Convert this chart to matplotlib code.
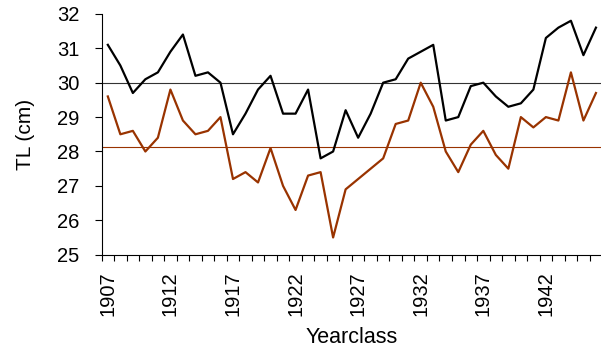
import numpy as np
import matplotlib
matplotlib.use("Agg")
import matplotlib.pyplot as plt
from matplotlib.ticker import MultipleLocator

plt.rcParams['font.family'] = ['Liberation Sans', 'DejaVu Sans']

# yearclasses 1907-1946
years = list(range(1907, 1947))
# black series
tl_black = [31.1, 30.5, 29.7, 30.1, 30.3, 30.9, 31.4, 30.2, 30.3, 30.0,
            28.5, 29.1, 29.8, 30.2, 29.1, 29.1, 29.8, 27.8, 28.0, 29.2,
            28.4, 29.1, 30.0, 30.1, 30.7, 30.9, 31.1, 28.9, 29.0, 29.9,
            30.0, 29.6, 29.3, 29.4, 29.8, 31.3, 31.6, 31.8, 30.8, 31.6]
# brown series
tl_brown = [29.6, 28.5, 28.6, 28.0, 28.4, 29.8, 28.9, 28.5, 28.6, 29.0,
            27.2, 27.4, 27.1, 28.1, 27.0, 26.3, 27.3, 27.4, 25.5, 26.9,
            27.2, 27.5, 27.8, 28.8, 28.9, 30.0, 29.3, 28.0, 27.4, 28.2,
            28.6, 27.9, 27.5, 29.0, 28.7, 29.0, 28.9, 30.3, 28.9, 29.7]
# reference levels
ref_black = 30.0
ref_brown = 28.12
label_years = [1907, 1912, 1917, 1922, 1927, 1932, 1937, 1942]

brown = '#993300'

fig = plt.figure(figsize=(6.01, 3.47), dpi=100)
ax = fig.add_axes([0.169, 0.266, 0.833, 0.694])

ax.axhline(ref_black, color='#333333', lw=0.8, zorder=1)
ax.axhline(ref_brown, color=brown, lw=0.8, zorder=1)
ax.plot(years, tl_black, color='black', lw=1.6, zorder=3)
ax.plot(years, tl_brown, color=brown, lw=1.6, zorder=2)

ax.set_xlim(years[0] - 0.5, years[-1] + 0.5)
ax.set_ylim(25, 32)

ax.set_xticks(label_years)
ax.set_xticklabels([str(y) for y in label_years], rotation=90)
ax.tick_params(axis='x', which='major', length=0, pad=12, labelsize=14.5)
ax.xaxis.set_minor_locator(MultipleLocator(1, offset=0.5))
ax.tick_params(axis='x', which='minor', length=4, width=0.8, direction='out')
ax.yaxis.set_major_locator(MultipleLocator(1))
ax.tick_params(axis='y', length=5, width=0.8, direction='out', pad=11, labelsize=14.5)

for s in ['top', 'right']:
    ax.spines[s].set_visible(False)
for s in ['left', 'bottom']:
    ax.spines[s].set_linewidth(0.8)

ax.set_ylabel('TL (cm)', fontsize=15, labelpad=16)
ax.set_xlabel('Yearclass', fontsize=15.5, labelpad=8)

fig.savefig('out.png', dpi=100)
